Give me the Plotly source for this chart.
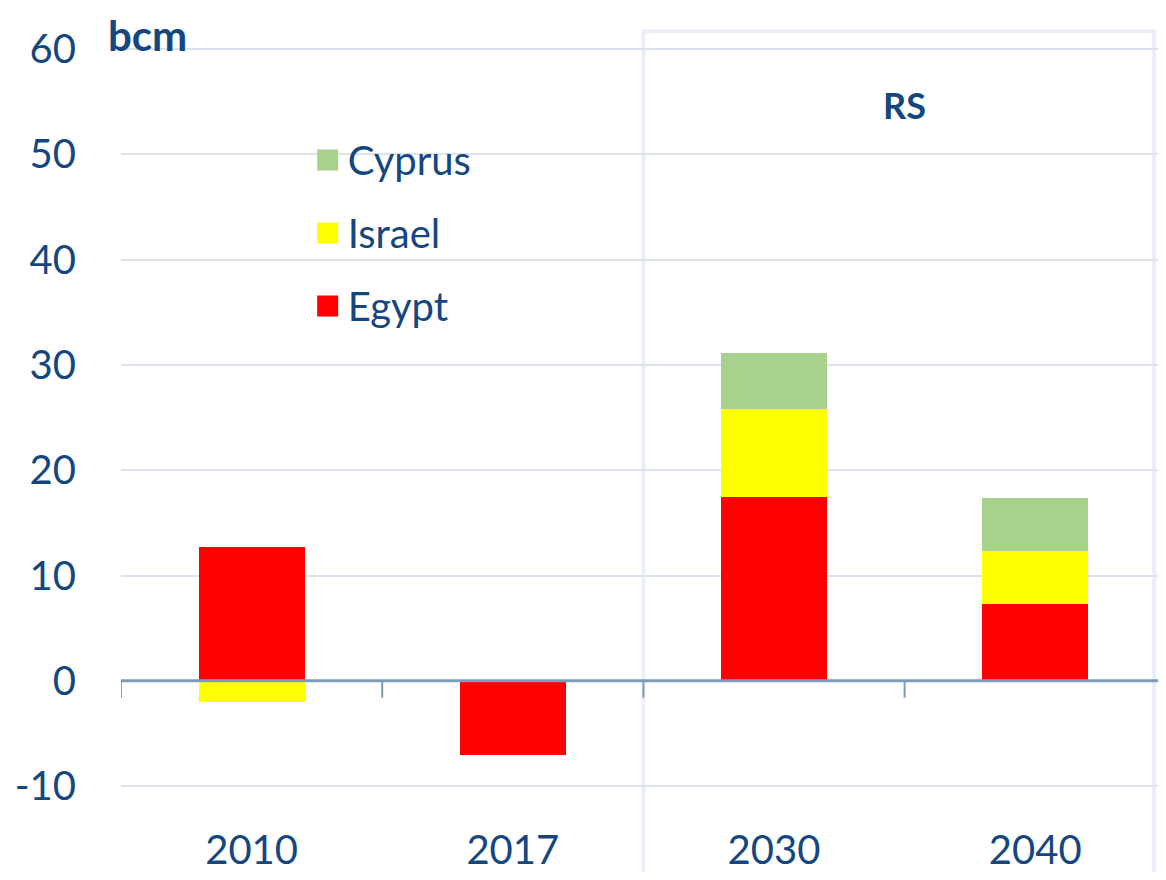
import plotly.graph_objects as go

# ---- data ----
years = ["2010", "2017", "2030", "2040"]
egypt = [12.7, -7.0, 17.5, 7.3]
israel = [-2.0, 0.0, 8.3, 5.0]
cyprus = [0.0, 0.0, 5.3, 5.1]
series_names = ["Egypt", "Israel", "Cyprus"]
series_values = [egypt, israel, cyprus]
series_colors = ["#ff0000", "#ffff00", "#a9d18e"]
y_ticks = [-10, 0, 10, 20, 30, 40, 50, 60]
y_tick_labels = ["-10", "0", "10", "20", "30", "40", "50", "60"]
unit_label = "bcm"
scenario_label = "RS"

FONT = "Lato"
TXT = "#14477f"
Y_MIN, Y_MAX = -13.5, 62
X_MIN, X_MAX = -0.5, 3.47

fig = go.Figure()
for name, vals, col in zip(series_names, series_values, series_colors):
    fig.add_trace(go.Bar(x=years, y=vals, name=name, marker=dict(color=col, line=dict(width=0)),
                         width=0.406, showlegend=False))
# legend swatches (larger squares), top-to-bottom: Cyprus, Israel, Egypt
n = len(series_names)
for i, (name, col) in enumerate(zip(series_names, series_colors)):
    fig.add_trace(go.Scatter(x=[None], y=[None], mode="markers", name=name, legendgroup=name,
                             legendrank=100 * (n - i),
                             marker=dict(symbol="square", size=16, color=col,
                                         line=dict(color=col, width=5))))

shapes = []
# scenario box
shapes.append(dict(type="rect", xref="x", yref="paper", x0=1.5, x1=3.455, y0=-0.08, y1=0.996,
                   line=dict(color="#eaeef7", width=4), fillcolor="rgba(0,0,0,0)", layer="below"))
# zero line and category boundary ticks
shapes.append(dict(type="line", xref="x", yref="y", x0=X_MIN, x1=X_MAX, y0=0, y1=0,
                   line=dict(color="#7e9bb9", width=3), layer="above"))
for b in [-0.5, 0.5, 1.5, 2.5]:
    shapes.append(dict(type="line", xref="x", yref="y", x0=b, x1=b, y0=0, y1=-1.6,
                       line=dict(color="#7e9bb9", width=2), layer="above"))

fig.update_layout(
    width=1150, height=864,
    margin=dict(l=113, r=0, t=20, b=49, autoexpand=False),
    barmode="relative",
    bargap=0,
    plot_bgcolor="white", paper_bgcolor="white",
    font=dict(family=FONT, color=TXT, size=40),
    showlegend=True,
    legend=dict(x=0.180, y=0.875, xanchor="left", yanchor="top", traceorder="grouped",
                tracegroupgap=18, bgcolor="rgba(0,0,0,0)", font=dict(size=40, color=TXT, family=FONT)),
    xaxis=dict(type="category", range=[X_MIN, X_MAX], showgrid=False, showline=False, zeroline=False,
               ticks="", automargin=False, tickfont=dict(size=40, color=TXT, family=FONT)),
    yaxis=dict(range=[Y_MIN, Y_MAX], tickvals=y_ticks, ticktext=y_tick_labels, showgrid=True,
               gridcolor="#dce3ef", gridwidth=2, automargin=False,
               zeroline=False, showline=False, ticks="", ticklabelstandoff=44,
               tickfont=dict(size=40, color=TXT, family=FONT)),
    shapes=shapes,
    annotations=[
        dict(text="<b>" + unit_label + "</b>", xref="paper", yref="paper", x=0.026, y=1.0245,
             xanchor="center", yanchor="top", showarrow=False, borderpad=0,
             font=dict(size=42, color=TXT, family=FONT)),
        dict(text="<b>" + scenario_label + "</b>", xref="x", yref="y", x=2.5, y=54.7,
             xanchor="center", yanchor="middle", showarrow=False, font=dict(size=36, color=TXT, family=FONT)),
    ],
)

fig.write_html("out.html")
